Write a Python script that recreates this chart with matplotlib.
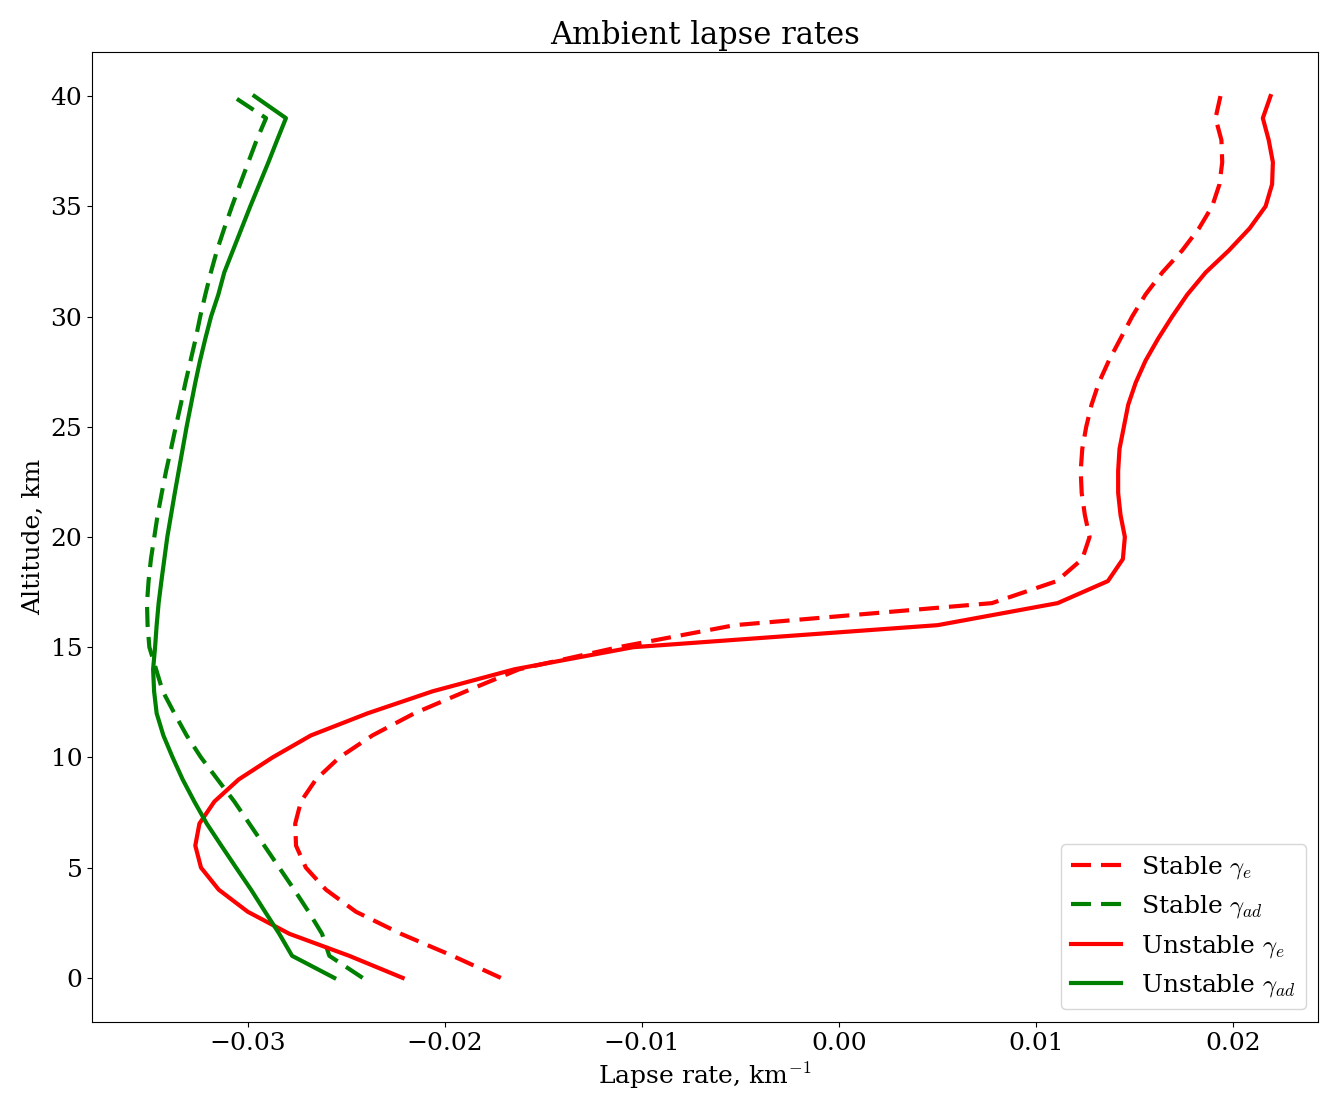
import matplotlib
matplotlib.use('Agg')
import matplotlib.pyplot as plt

plt.rcParams['font.family'] = 'DejaVu Serif'
plt.rcParams['mathtext.fontset'] = 'cm'

altitude = list(range(0, 41))

# gradientes ambientes, atmosfera estavel
stable_e = [-0.01716, -0.01961, -0.02223, -0.02451, -0.02603, -0.02705, -0.02755,
            -0.02759, -0.02730, -0.02654, -0.02535, -0.02367, -0.02155, -0.01893,
            -0.01623, -0.01120, -0.00530, 0.00776, 0.01105, 0.01234, 0.01271,
            0.01247, 0.01231, 0.01226, 0.01234, 0.01254, 0.01281, 0.01318,
            0.01369, 0.01428, 0.01487, 0.01555, 0.01640, 0.01741, 0.01826,
            0.01893, 0.01930, 0.01944, 0.01940, 0.01910, 0.01935]
stable_ad = [-0.02417, -0.02586, -0.02623, -0.02691, -0.02764, -0.02840, -0.02916,
             -0.02992, -0.03068, -0.03153, -0.03237, -0.03310, -0.03372, -0.03431,
             -0.03465, -0.03499, -0.03508, -0.03511, -0.03503, -0.03491, -0.03474,
             -0.03457, -0.03436, -0.03414, -0.03389, -0.03365, -0.03340, -0.03316,
             -0.03290, -0.03264, -0.03241, -0.03215, -0.03187, -0.03156, -0.03119,
             -0.03080, -0.03039, -0.02997, -0.02955, -0.02907, -0.03076]

# atmosfera instavel
unstable_e = [-0.02214, -0.02485, -0.02789, -0.03000, -0.03147, -0.03237, -0.03266,
              -0.03245, -0.03169, -0.03046, -0.02874, -0.02679, -0.02392, -0.02062,
              -0.01646, -0.01045, 0.00500, 0.01109, 0.01364, 0.01440, 0.01450,
              0.01428, 0.01416, 0.01416, 0.01423, 0.01445, 0.01467, 0.01505,
              0.01555, 0.01619, 0.01690, 0.01767, 0.01860, 0.01978, 0.02083,
              0.02164, 0.02197, 0.02201, 0.02180, 0.02150, 0.02189]
unstable_ad = [-0.02561, -0.02775, -0.02840, -0.02912, -0.02983, -0.03059, -0.03134,
               -0.03208, -0.03271, -0.03330, -0.03381, -0.03428, -0.03462, -0.03475,
               -0.03480, -0.03470, -0.03462, -0.03452, -0.03438, -0.03423, -0.03408,
               -0.03389, -0.03370, -0.03350, -0.03330, -0.03310, -0.03288, -0.03266,
               -0.03242, -0.03215, -0.03186, -0.03149, -0.03119, -0.03075, -0.03031,
               -0.02987, -0.02941, -0.02895, -0.02851, -0.02806, -0.02966]

fig, ax = plt.subplots(figsize=(13.2, 10.95), dpi=100)
lw = 3
dash = (4.8, 2.4)
ax.plot(stable_e, altitude, 'r--', lw=lw, dashes=dash, label=r'Stable $\gamma_e$')
ax.plot(stable_ad, altitude, 'g--', lw=lw, dashes=dash, label=r'Stable $\gamma_{ad}$')
ax.plot(unstable_e, altitude, 'r-', lw=lw, label=r'Unstable $\gamma_e$')
ax.plot(unstable_ad, altitude, 'g-', lw=lw, label=r'Unstable $\gamma_{ad}$')

ax.set_xlim(-0.0379, 0.0243)
ax.set_ylim(-2, 42)
ax.set_title('Ambient lapse rates', fontsize=22)
ax.set_xlabel(r'Lapse rate, km$^{-1}$', fontsize=18)
ax.set_ylabel('Altitude, km', fontsize=18)
ax.tick_params(labelsize=18)
ax.legend(loc='lower right', fontsize=18)

fig.subplots_adjust(left=0.0697, right=0.9985, top=0.9525, bottom=0.0667)
fig.savefig('out.png')
